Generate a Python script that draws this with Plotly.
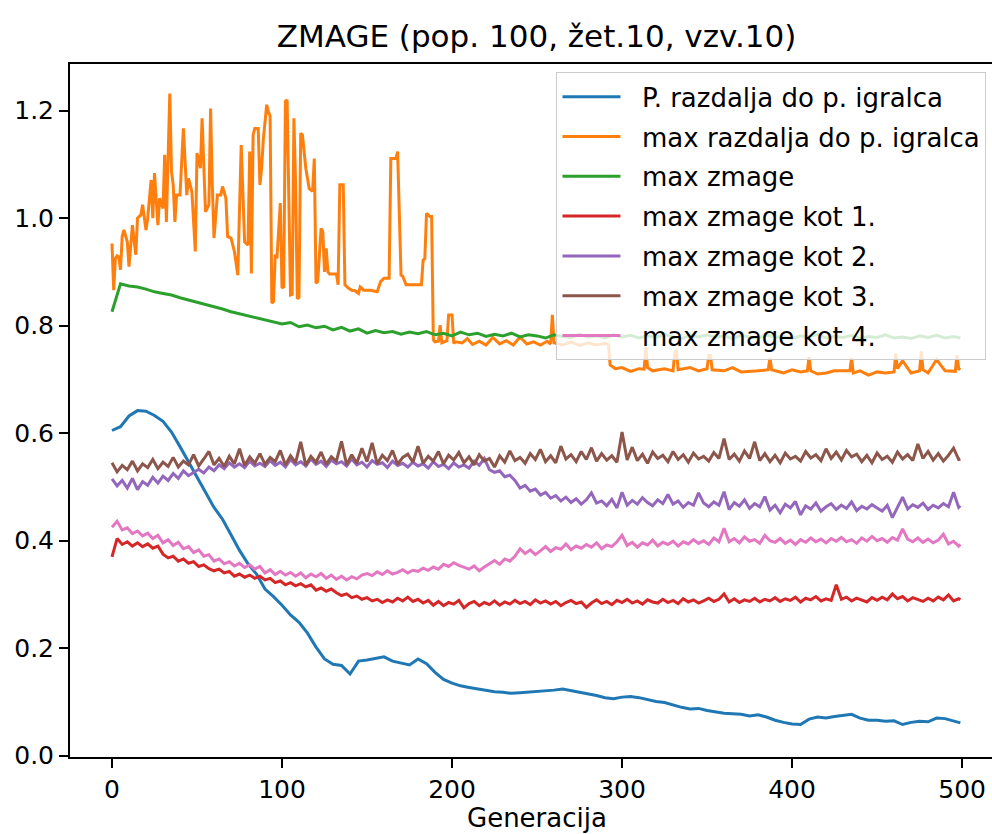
import plotly.graph_objects as go

# ---- data ----
gen = list(range(0, 500, 5)) + [499]      # generations for the smoother series
gen3 = list(range(0, 499, 3)) + [499]     # generations for the noisy "kot" series

p_razdalja = [0.605, 0.612, 0.632, 0.642, 0.641, 0.633, 0.622, 0.602, 0.575, 0.546,
              0.518, 0.490, 0.462, 0.440, 0.411, 0.382, 0.357, 0.338, 0.310, 0.296,
              0.280, 0.262, 0.248, 0.228, 0.202, 0.180, 0.170, 0.168, 0.152, 0.176,
              0.178, 0.181, 0.184, 0.176, 0.173, 0.169, 0.180, 0.171, 0.155, 0.142,
              0.135, 0.130, 0.127, 0.124, 0.121, 0.119, 0.118, 0.116, 0.117, 0.118,
              0.119, 0.120, 0.122, 0.124, 0.121, 0.118, 0.116, 0.112, 0.108, 0.106,
              0.109, 0.110, 0.108, 0.104, 0.101, 0.099, 0.094, 0.090, 0.087, 0.088,
              0.084, 0.081, 0.079, 0.078, 0.077, 0.074, 0.076, 0.072, 0.066, 0.062,
              0.059, 0.058, 0.068, 0.072, 0.070, 0.073, 0.075, 0.077, 0.070, 0.066,
              0.066, 0.064, 0.065, 0.058, 0.062, 0.064, 0.063, 0.070, 0.069, 0.064,
              0.061]

max_zmage = [0.826, 0.878, 0.874, 0.872, 0.868, 0.863, 0.860, 0.857, 0.852, 0.848,
             0.843, 0.839, 0.835, 0.831, 0.826, 0.822, 0.818, 0.815, 0.811, 0.806,
             0.803, 0.806, 0.798, 0.801, 0.796, 0.799, 0.792, 0.797, 0.790, 0.794,
             0.786, 0.791, 0.787, 0.789, 0.784, 0.788, 0.785, 0.789, 0.783, 0.786,
             0.781, 0.788, 0.783, 0.786, 0.780, 0.784, 0.781, 0.786, 0.779, 0.783,
             0.781, 0.777, 0.783, 0.780, 0.778, 0.784, 0.779, 0.781, 0.777, 0.783,
             0.779, 0.782, 0.777, 0.781, 0.778, 0.784, 0.779, 0.776, 0.782, 0.779,
             0.783, 0.778, 0.781, 0.776, 0.782, 0.779, 0.777, 0.783, 0.778, 0.780,
             0.776, 0.781, 0.779, 0.784, 0.777, 0.780, 0.778, 0.782, 0.776, 0.780,
             0.778, 0.783, 0.777, 0.779, 0.776, 0.781, 0.778, 0.782, 0.777, 0.780,
             0.777]

kot1 = [0.370, 0.404, 0.393, 0.398, 0.390, 0.396, 0.389, 0.394, 0.386, 0.390,
        0.375, 0.368, 0.371, 0.362, 0.366, 0.358, 0.361, 0.352, 0.355, 0.348,
        0.344, 0.347, 0.340, 0.343, 0.334, 0.338, 0.332, 0.336, 0.330, 0.334,
        0.327, 0.330, 0.322, 0.325, 0.318, 0.322, 0.316, 0.320, 0.314, 0.318,
        0.308, 0.312, 0.306, 0.310, 0.303, 0.298, 0.301, 0.294, 0.297, 0.291,
        0.294, 0.288, 0.291, 0.285, 0.290, 0.286, 0.293, 0.288, 0.295, 0.287,
        0.291, 0.284, 0.289, 0.280, 0.287, 0.279, 0.285, 0.282, 0.289, 0.275,
        0.283, 0.287, 0.279, 0.285, 0.281, 0.288, 0.280, 0.286, 0.282, 0.289,
        0.283, 0.287, 0.281, 0.290, 0.284, 0.288, 0.282, 0.287, 0.279, 0.285,
        0.289, 0.283, 0.286, 0.276, 0.284, 0.290, 0.283, 0.287, 0.281, 0.289,
        0.285, 0.291, 0.284, 0.288, 0.282, 0.290, 0.286, 0.284, 0.291, 0.285,
        0.289, 0.283, 0.292, 0.286, 0.290, 0.284, 0.288, 0.293, 0.287, 0.291,
        0.301, 0.286, 0.292, 0.285, 0.290, 0.287, 0.293, 0.286, 0.291, 0.288,
        0.294, 0.287, 0.292, 0.289, 0.295, 0.286, 0.293, 0.290, 0.296, 0.288,
        0.292, 0.289, 0.318, 0.291, 0.295, 0.288, 0.293, 0.290, 0.286, 0.294,
        0.289, 0.295, 0.290, 0.301, 0.292, 0.296, 0.288, 0.294, 0.291, 0.287,
        0.293, 0.288, 0.295, 0.290, 0.299, 0.288, 0.292,
        0.290]

kot2 = [0.515, 0.502, 0.512, 0.498, 0.516, 0.495, 0.510, 0.503, 0.518, 0.507,
        0.520, 0.512, 0.525, 0.516, 0.530, 0.521, 0.527, 0.533, 0.526, 0.537,
        0.530, 0.541, 0.534, 0.545, 0.537, 0.543, 0.536, 0.548, 0.539, 0.544,
        0.538, 0.549, 0.540, 0.546, 0.537, 0.551, 0.541, 0.547, 0.539, 0.552,
        0.542, 0.548, 0.538, 0.550, 0.543, 0.547, 0.539, 0.552, 0.541, 0.546,
        0.537, 0.549, 0.542, 0.545, 0.536, 0.548, 0.540, 0.544, 0.537, 0.546,
        0.539, 0.543, 0.535, 0.547, 0.538, 0.542, 0.534, 0.545, 0.537, 0.541,
        0.535, 0.548, 0.540, 0.553, 0.532, 0.527, 0.530, 0.519, 0.522, 0.512,
        0.498, 0.503, 0.492, 0.496, 0.485, 0.490, 0.479, 0.484, 0.474, 0.481,
        0.471, 0.478, 0.468, 0.476, 0.489, 0.470, 0.474, 0.465, 0.477, 0.461,
        0.490, 0.466, 0.475, 0.468, 0.480, 0.471, 0.465, 0.476, 0.469, 0.486,
        0.468, 0.474, 0.462, 0.471, 0.466, 0.489, 0.470, 0.463, 0.472, 0.466,
        0.491, 0.458, 0.471, 0.464, 0.476, 0.460, 0.469, 0.463, 0.482, 0.457,
        0.466, 0.452, 0.468, 0.461, 0.473, 0.448, 0.465, 0.459, 0.470, 0.455,
        0.463, 0.469, 0.458, 0.466, 0.460, 0.472, 0.456, 0.464, 0.459, 0.467,
        0.461, 0.455, 0.466, 0.443, 0.462, 0.481, 0.459, 0.467, 0.462, 0.470,
        0.458, 0.466, 0.461, 0.469, 0.463, 0.490, 0.462,
        0.465]

kot3 = [0.545, 0.528, 0.540, 0.532, 0.548, 0.530, 0.543, 0.536, 0.551, 0.534,
        0.546, 0.538, 0.555, 0.537, 0.548, 0.541, 0.560, 0.539, 0.552, 0.566,
        0.541, 0.553, 0.538, 0.557, 0.543, 0.571, 0.540, 0.556, 0.544, 0.562,
        0.542, 0.555, 0.547, 0.568, 0.541, 0.558, 0.545, 0.584, 0.540, 0.557,
        0.546, 0.565, 0.542, 0.556, 0.548, 0.585, 0.541, 0.560, 0.544, 0.572,
        0.547, 0.582, 0.543, 0.559, 0.549, 0.568, 0.542, 0.555, 0.561, 0.546,
        0.576, 0.544, 0.557, 0.548, 0.566, 0.543, 0.559, 0.550, 0.564, 0.545,
        0.556, 0.541, 0.560, 0.548, 0.553, 0.537, 0.558, 0.546, 0.567, 0.549,
        0.555, 0.544, 0.562, 0.551, 0.570, 0.547, 0.558, 0.545, 0.576, 0.552,
        0.560, 0.547, 0.566, 0.551, 0.573, 0.548, 0.562, 0.550, 0.558, 0.546,
        0.602, 0.550, 0.574, 0.549, 0.561, 0.544, 0.565, 0.553, 0.559, 0.547,
        0.566, 0.551, 0.560, 0.546, 0.563, 0.552, 0.557, 0.548, 0.564, 0.553,
        0.590, 0.551, 0.561, 0.548, 0.567, 0.553, 0.584, 0.549, 0.562, 0.547,
        0.559, 0.545, 0.563, 0.552, 0.557, 0.548, 0.566, 0.554, 0.560, 0.549,
        0.571, 0.553, 0.565, 0.550, 0.568, 0.556, 0.561, 0.547, 0.559, 0.545,
        0.563, 0.551, 0.557, 0.546, 0.565, 0.552, 0.560, 0.549, 0.580, 0.553,
        0.566, 0.550, 0.562, 0.548, 0.559, 0.572, 0.551,
        0.552]

kot4 = [0.425, 0.436, 0.420, 0.424, 0.413, 0.418, 0.409, 0.414, 0.404, 0.410,
        0.396, 0.402, 0.391, 0.397, 0.385, 0.389, 0.378, 0.383, 0.371, 0.374,
        0.362, 0.366, 0.357, 0.361, 0.353, 0.358, 0.350, 0.355, 0.347, 0.352,
        0.340, 0.346, 0.337, 0.343, 0.336, 0.341, 0.334, 0.340, 0.331, 0.338,
        0.333, 0.339, 0.330, 0.336, 0.328, 0.334, 0.327, 0.333, 0.329, 0.336,
        0.339, 0.335, 0.342, 0.337, 0.344, 0.338, 0.341, 0.346, 0.340, 0.345,
        0.343, 0.349, 0.345, 0.351, 0.347, 0.356, 0.352, 0.359, 0.354, 0.350,
        0.347, 0.353, 0.344, 0.351, 0.357, 0.363, 0.356, 0.366, 0.362, 0.371,
        0.385, 0.376, 0.383, 0.374, 0.381, 0.389, 0.380, 0.387, 0.384, 0.394,
        0.383, 0.390, 0.386, 0.393, 0.388, 0.396, 0.385, 0.392, 0.389, 0.398,
        0.410, 0.391, 0.397, 0.388, 0.396, 0.392, 0.401, 0.390, 0.397, 0.393,
        0.399, 0.390, 0.398, 0.394, 0.402, 0.395, 0.400, 0.393, 0.405, 0.398,
        0.423, 0.398, 0.404, 0.396, 0.407, 0.399, 0.402, 0.395, 0.410, 0.400,
        0.397, 0.404, 0.395, 0.401, 0.393, 0.402, 0.397, 0.405, 0.398, 0.403,
        0.396, 0.404, 0.399, 0.406, 0.398, 0.402, 0.395, 0.405, 0.399, 0.408,
        0.400, 0.404, 0.397, 0.406, 0.401, 0.422, 0.403, 0.398, 0.405, 0.397,
        0.403, 0.396, 0.401, 0.412, 0.394, 0.399, 0.390,
        0.393]

max_razdalja_gen = [
    0, 1, 2, 3, 4, 5, 6, 7, 9, 10, 12, 14, 15, 17, 18, 20, 21, 23, 24, 25,
    27, 28, 30, 31, 32, 33, 34, 35, 36, 37, 38, 40, 42, 44, 45, 47, 49, 50, 52, 53,
    55, 57, 58, 59, 60, 62, 64, 65, 67, 68, 70, 72, 74, 76, 77, 78, 80, 81, 82, 83,
    84, 86, 87, 88, 89, 91, 92, 93, 94, 95, 96, 97, 99, 100, 101, 102, 103, 105, 106, 107,
    108, 109, 110, 111, 112, 114, 116, 118, 119, 120, 121, 123, 124, 125, 126, 127, 128, 132, 133, 134,
    136, 137, 139, 141, 143, 145, 146, 148, 152, 156, 158, 160, 163, 164, 167, 168, 170, 171, 173, 179,
    182, 183, 184, 185, 187, 188, 189, 190, 192, 193, 194, 197, 198, 200, 201, 202, 206, 209, 212, 216,
    220, 224, 228, 232, 236, 240, 244, 248, 252, 256, 258, 259, 260, 265, 270, 275, 280, 285, 290, 292,
    293, 296, 300, 305, 310, 313, 314, 315, 318, 325, 330, 331, 332, 333, 340, 345, 350, 351, 352, 353,
    360, 365, 370, 380, 386, 387, 388, 395, 400, 405, 409, 410, 411, 415, 420, 425, 434, 435, 436, 440,
    445, 450, 455, 460, 461, 462, 465, 470, 475, 476, 477, 480, 485, 490, 496, 497, 498, 499]
max_razdalja = [
    0.953, 0.866, 0.925, 0.930, 0.928, 0.904, 0.966, 0.978, 0.956, 0.910, 0.987, 0.932, 1.000, 1.006, 1.025, 0.978, 1.000, 1.071, 1.000, 1.084,
    0.987, 1.037, 1.018, 1.118, 0.993, 1.118, 1.232, 1.087, 1.062, 0.993, 1.043, 1.043, 1.167, 1.043, 1.074, 1.049, 0.938, 1.121, 1.093, 1.186,
    1.012, 1.025, 1.204, 1.062, 0.963, 1.043, 1.043, 1.059, 1.037, 0.966, 0.963, 0.938, 0.894, 1.136, 1.062, 0.956, 0.950, 1.124, 0.897, 1.155,
    1.167, 1.167, 1.062, 1.093, 1.146, 1.211, 1.198, 1.190, 0.842, 0.845, 0.932, 0.925, 1.028, 0.870, 0.872, 1.217, 1.220, 0.857, 0.858, 1.186,
    1.062, 0.850, 0.853, 1.158, 1.155, 1.093, 1.055, 1.050, 1.111, 0.879, 0.882, 0.981, 0.975, 0.900, 0.944, 0.900, 0.896, 0.896, 0.876, 1.062,
    1.062, 0.876, 0.870, 0.866, 0.865, 0.860, 0.872, 0.866, 0.866, 0.863, 0.882, 0.888, 0.888, 1.111, 1.111, 1.124, 0.894, 0.892, 0.876, 0.876,
    0.876, 0.922, 0.925, 1.009, 1.003, 1.003, 0.774, 0.770, 0.771, 0.801, 0.768, 0.772, 0.820, 0.820, 0.767, 0.770, 0.768, 0.776, 0.765, 0.771,
    0.764, 0.778, 0.766, 0.772, 0.764, 0.779, 0.766, 0.770, 0.764, 0.771, 0.766, 0.820, 0.768, 0.764, 0.770, 0.763, 0.768, 0.764, 0.767, 0.765,
    0.727, 0.720, 0.722, 0.715, 0.720, 0.719, 0.760, 0.722, 0.716, 0.720, 0.716, 0.750, 0.755, 0.718, 0.722, 0.716, 0.720, 0.745, 0.745, 0.718,
    0.716, 0.722, 0.714, 0.716, 0.718, 0.740, 0.718, 0.712, 0.718, 0.714, 0.716, 0.742, 0.716, 0.710, 0.712, 0.716, 0.716, 0.740, 0.712, 0.716,
    0.708, 0.714, 0.712, 0.714, 0.748, 0.720, 0.735, 0.712, 0.716, 0.752, 0.718, 0.712, 0.737, 0.716, 0.715, 0.745, 0.720, 0.718]

series = [
    ("P. razdalja do p. igralca", gen, p_razdalja, "#1f77b4"),
    ("max razdalja do p. igralca", max_razdalja_gen, max_razdalja, "#ff7f0e"),
    ("max zmage", gen, max_zmage, "#2ca02c"),
    ("max zmage kot 1.", gen3, kot1, "#d62728"),
    ("max zmage kot 2.", gen3, kot2, "#9467bd"),
    ("max zmage kot 3.", gen3, kot3, "#8c564b"),
    ("max zmage kot 4.", gen3, kot4, "#e377c2"),
]

x_ticks = [0, 100, 200, 300, 400, 500]
y_ticks = [0.0, 0.2, 0.4, 0.6, 0.8, 1.0, 1.2]
y_tick_text = ["0.0", "0.2", "0.4", "0.6", "0.8", "1.0", "1.2"]

FONT = "DejaVu Sans"
LEGEND_PAD = "\u00a0\u00a0"  # gap between legend handle and label

fig = go.Figure()
for name, xs, ys, col in series:
    fig.add_trace(go.Scatter(x=xs, y=ys, mode="lines", name=LEGEND_PAD + name, legendgroup=name,
                             line=dict(color=col, width=3)))

fig.update_layout(
    width=992, height=834,
    margin=dict(l=70, r=0, t=64, b=77, autoexpand=False),
    paper_bgcolor="white", plot_bgcolor="white",
    font=dict(family=FONT, color="black", size=25),
    title=dict(text="ZMAGE (pop. 100, žet.10, vzv.10)", font=dict(family=FONT, size=31, color="black"),
               x=0.506, xref="paper", xanchor="center", y=1 - 36 / 834, yref="container", yanchor="middle"),
    xaxis=dict(range=[-24.7, 517.6], tickvals=x_ticks, ticks="outside", ticklen=9, tickwidth=2,
               tickcolor="black", showline=True, linecolor="black", linewidth=2, mirror=True,
               showgrid=False, zeroline=False, tickfont=dict(size=25), automargin=False),
    yaxis=dict(range=[-0.0024, 1.2868], tickvals=y_ticks, ticktext=y_tick_text, ticks="outside",
               ticklen=9, tickwidth=2, tickcolor="black", showline=True, linecolor="black",
               linewidth=2, showgrid=False, zeroline=False, tickfont=dict(size=25), automargin=False),
    legend=dict(x=0.994, xanchor="right", y=0.988, yanchor="top", bgcolor="rgba(255,255,255,0.8)",
                bordercolor="#cccccc", borderwidth=1, font=dict(family=FONT, size=26),
                traceorder="grouped", tracegroupgap=3, itemwidth=58),
    annotations=[dict(text="Generacija", xref="paper", yref="paper", x=0.506, y=-(801 - 757) / 693,
                      xanchor="center", yanchor="top", showarrow=False,
                      font=dict(family=FONT, size=26, color="black"))],
)

fig.write_html("out.html")
